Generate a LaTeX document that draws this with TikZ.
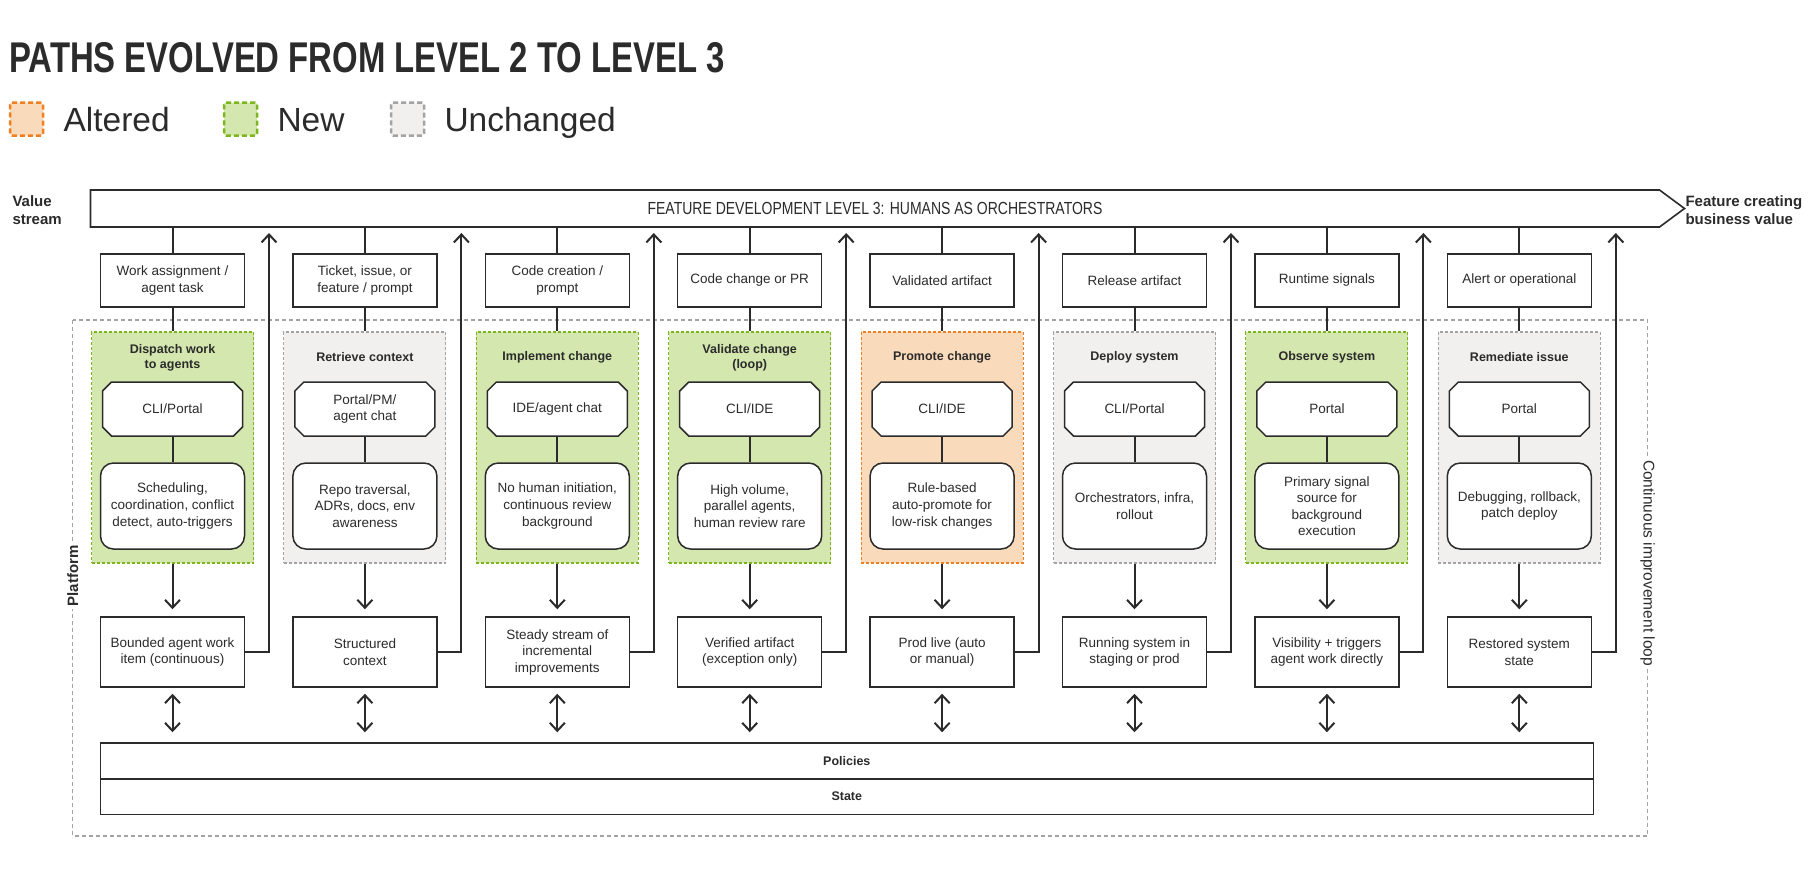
\documentclass[tikz,border=0pt]{standalone}
\usepackage{fontspec}
\setmainfont{Liberation Sans}
\usetikzlibrary{arrows.meta,shapes.symbols}
\definecolor{ink}{HTML}{2B2B2B}
\definecolor{newfill}{HTML}{D4E7AE}
\definecolor{newline}{HTML}{7DB61C}
\definecolor{altfill}{HTML}{F9DABA}
\definecolor{altline}{HTML}{EE7F22}
\definecolor{samefill}{HTML}{F1F0EE}
\definecolor{sameline}{HTML}{A3A3A3}
\tikzset{
  txt/.style={font=\fontsize{13.5}{16.5}\selectfont, text=ink, align=center},
  hdr/.style={font=\fontsize{12.5}{15}\selectfont\bfseries, text=ink, align=center},
  plainbox/.style={txt, draw=ink, line width=1.5pt, fill=white, minimum width=144pt, inner sep=0pt},
  inbox/.style={plainbox, minimum height=53pt},
  outbox/.style={plainbox, minimum height=70pt},
  toolbox/.style={txt, minimum width=140pt, minimum height=54pt, inner sep=0pt},
  octline/.style={draw=ink, line width=1.5pt, fill=white},
  notebox/.style={plainbox, rounded corners=13pt, minimum height=86pt},
  stagebox/.style={line width=1.1pt, dash pattern=on 3pt off 2pt, minimum width=162pt, minimum height=231pt},
  stagenew/.style={stagebox, fill=newfill, draw=newline},
  stagealt/.style={stagebox, fill=altfill, draw=altline},
  stagesame/.style={stagebox, fill=samefill, draw=sameline},
  keybox/.style={line width=2.5pt, dash pattern=on 5pt off 3pt, rounded corners=2pt, minimum size=33pt, inner sep=0pt},
  keytxt/.style={font=\fontsize{33.5}{40}\selectfont, text=ink, anchor=base west},
  wire/.style={draw=ink, line width=2pt},
  flow/.style={wire, -{Straight Barb[length=8pt,width=15pt]}},
  both/.style={wire, {Straight Barb[length=8pt,width=15pt]}-{Straight Barb[length=8pt,width=15pt]}}
}
\begin{document}
\begin{tikzpicture}[x=1pt,y=-1pt]
\useasboundingbox (0,0) rectangle (1820,868);
% title and legend
\node[anchor=base west, inner sep=0pt, text=ink] (title) at (9,72) {\scalebox{0.765}[1]{\fontsize{43}{50}\selectfont\bfseries PATHS EVOLVED FROM LEVEL 2 TO LEVEL 3}};
\node[keybox, fill=altfill, draw=altline] (altkey) at (26.5,119) {};
\node[keytxt] at (60,131) {Altered};
\node[keybox, fill=newfill, draw=newline] (newkey) at (240.5,119) {};
\node[keytxt] at (274,131) {New};
\node[keybox, fill=samefill, draw=sameline] (samekey) at (407.5,119) {};
\node[keytxt] at (441,131) {Unchanged};
% platform frame
\draw[sameline, line width=1.1pt, dash pattern=on 4pt off 3pt] (72.7,320) rectangle (1647.7,836);
\node[rotate=90, fill=white, inner sep=3pt, font=\fontsize{15}{18}\selectfont\bfseries, text=ink] (platform) at (72.7,576) {Platform};
\node[rotate=-90, fill=white, inner sep=3pt, font=\fontsize{15.5}{18}\selectfont, text=ink] (loop) at (1647.7,563) {Continuous improvement loop};
% value stream
\node[anchor=west, align=left, font=\fontsize{15}{17.5}\selectfont\bfseries, text=ink] (vs) at (9,210) {Value\\stream};
\node[anchor=west, align=left, font=\fontsize{15}{17.5}\selectfont\bfseries, text=ink] (fv) at (1682,210) {Feature creating\\business value};
\node[signal, signal to=east, signal pointer angle=73, draw=ink, line width=1.6pt, fill=white, minimum width=1594pt, minimum height=37pt, inner sep=0pt, text=ink] (bar) at (875,208.5) {\scalebox{0.8}[1]{\fontsize{17.5}{20}\selectfont FEATURE DEVELOPMENT LEVEL 3: HUMANS AS ORCHESTRATORS}};
% shared platform layers
\node[plainbox, hdr, minimum width=1493pt, minimum height=36pt] (policies) at (846.8,761) {Policies};
\node[plainbox, hdr, minimum width=1493pt, minimum height=35.5pt] (state) at (846.8,796.5) {State};
% the eight stages
\foreach \i/\kind/\inp/\ttl/\tool/\note/\out in {
  0/stagenew/{Work assignment /\\agent task}/{Dispatch work\\to agents}/{CLI/Portal}/{Scheduling,\\coordination, conflict\\detect, auto-triggers}/{Bounded agent work\\item (continuous)},
  1/stagesame/{Ticket, issue, or\\feature / prompt}/{Retrieve context}/{Portal/PM/\\agent chat}/{Repo traversal,\\ADRs, docs, env\\awareness}/{Structured\\context},
  2/stagenew/{Code creation /\\prompt}/{Implement change}/{IDE/agent chat}/{No human initiation,\\continuous review\\background}/{Steady stream of\\incremental\\improvements},
  3/stagenew/{Code change or PR}/{Validate change\\(loop)}/{CLI/IDE}/{High volume,\\parallel agents,\\human review rare}/{Verified artifact\\(exception only)},
  4/stagealt/{Validated artifact}/{Promote change}/{CLI/IDE}/{Rule-based\\auto-promote for\\low-risk changes}/{Prod live (auto\\or manual)},
  5/stagesame/{Release artifact}/{Deploy system}/{CLI/Portal}/{Orchestrators, infra,\\rollout}/{Running system in\\staging or prod},
  6/stagenew/{Runtime signals}/{Observe system}/{Portal}/{Primary signal\\source for\\background\\execution}/{Visibility + triggers\\agent work directly},
  7/stagesame/{Alert or operational}/{Remediate issue}/{Portal}/{Debugging, rollback,\\patch deploy}/{Restored system\\state}}{
  \pgfmathsetmacro{\cx}{172.5+192.4*\i}
  \node[inbox] (in\i) at (\cx,280.5) {\inp};
  \node[\kind] (stage\i) at (\cx,447.5) {};
  \node[hdr] (ttl\i) at (\cx,357.5) {\ttl};
  \draw[octline] (\cx-61,382) -- (\cx+61,382) -- (\cx+70,391) -- (\cx+70,427) -- (\cx+61,436) -- (\cx-61,436) -- (\cx-70,427) -- (\cx-70,391) -- cycle;
  \node[toolbox] (tool\i) at (\cx,409) {\tool};
  \node[notebox] (note\i) at (\cx,506) {\note};
  \node[outbox] (out\i) at (\cx,652) {\out};
  \coordinate (up\i) at (\cx+96.5,233);
  \draw[wire] (in\i.north) -- (in\i.north |- bar.south);
  \draw[wire] (in\i.south) -- (stage\i.north);
  \draw[wire] (tool\i.south) -- (note\i.north);
  \draw[flow, shorten >=7pt] (stage\i.south) -- (out\i.north);
  \draw[flow] (out\i.east) -| (up\i);
  \draw[both, shorten <=6pt, shorten >=10pt] (out\i.south) -- (out\i.south |- policies.north);
}
\end{tikzpicture}
\end{document}
